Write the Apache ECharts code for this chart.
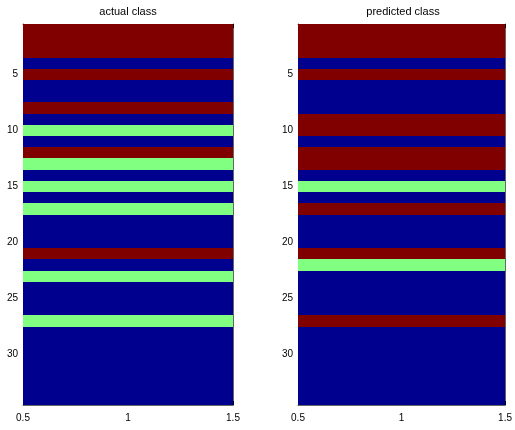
<!DOCTYPE html>
<html>
<head>
<meta charset="utf-8">
<script src="https://cdn.jsdelivr.net/npm/echarts@6/dist/echarts.min.js"></script>
<style>
html,body{margin:0;padding:0;background:#fff;}
#chart{width:515px;height:430px;}
</style>
</head>
<body>
<div id="chart"></div>
<script>
// ---- data ----
const rowIndex = [1,2,3,4,5,6,7,8,9,10,11,12,13,14,15,16,17,18,19,20,21,22,23,24,25,26,27,28,29,30,31,32,33,34];
const actualClass    = [3,3,3,1,3,1,1,3,1,2,1,3,2,1,2,1,2,1,1,1,3,1,2,1,1,1,2,1,1,1,1,1,1,1];
const predictedClass = [3,3,3,1,3,1,1,1,3,3,1,3,3,1,2,1,3,1,1,1,3,2,1,1,1,1,3,1,1,1,1,1,1,1];
const panelTitles = ['actual class', 'predicted class'];
const yTickValues = [5,10,15,20,25,30];

// ---- style ----
const classColor = {1:'#00008f', 2:'#80ff80', 3:'#800000'};
const FONT = 'Liberation Sans';
const grids = [
  {left:23, top:24, width:210, height:381},
  {left:298, top:24, width:210, height:381}
];

const chart = echarts.init(document.getElementById('chart'));

const xAxes = [], yAxes = [], series = [], titles = [];
const allData = [actualClass, predictedClass];
grids.forEach((g, i) => {
  const lineStyle = {color:'#666', width:1};
  xAxes.push({
    gridIndex:i, type:'value', position:'bottom', min:0.5, max:1.5, interval:0.5,
    axisLine:{show:true, lineStyle, onZero:false},
    axisTick:{show:true, inside:true, length:4, lineStyle:{color:'#000'}},
    axisLabel:{show:true, color:'#000', fontFamily:FONT, fontSize:10, margin:8,
      formatter: v => String(v)},
    splitLine:{show:false}
  });
  xAxes.push({
    gridIndex:i, type:'value', position:'top', min:0.5, max:1.5, interval:0.5,
    axisLine:{show:true, lineStyle, onZero:false},
    axisTick:{show:true, inside:true, length:4, lineStyle:{color:'#000'}},
    axisLabel:{show:false}, splitLine:{show:false}
  });
  yAxes.push({
    gridIndex:i, type:'value', position:'left', inverse:true, min:0.5, max:34.5,
    axisLine:{show:true, lineStyle, onZero:false},
    axisTick:{show:true, inside:true, length:4, lineStyle:{color:'#000'}, customValues:yTickValues},
    axisLabel:{show:true, color:'#000', fontFamily:FONT, fontSize:10, margin:5, customValues:yTickValues},
    splitLine:{show:false}
  });
  yAxes.push({
    gridIndex:i, type:'value', position:'right', inverse:true, min:0.5, max:34.5,
    axisLine:{show:true, lineStyle, onZero:false},
    axisTick:{show:true, inside:true, length:4, lineStyle:{color:'#000'}, customValues:yTickValues},
    axisLabel:{show:false}, splitLine:{show:false}
  });
  const data = rowIndex.map((r, k) => [1, r, allData[i][k]]);
  series.push({
    type:'custom', xAxisIndex:i*2, yAxisIndex:i*2, clip:true, z:1,
    data,
    encode:{x:0, y:1},
    renderItem:(params, api) => {
      const y = api.value(1);
      const c = api.value(2);
      const p0 = api.coord([0.5, y - 0.5]);
      const p1 = api.coord([1.5, y + 0.5]);
      const y0 = Math.round(Math.min(p0[1], p1[1]));
      const y1 = Math.round(Math.max(p0[1], p1[1]));
      return {
        type:'rect',
        shape:{x:p0[0], y:y0, width:p1[0]-p0[0], height:y1 - y0},
        style:{fill:classColor[c], stroke:null, lineWidth:0}
      };
    }
  });
  titles.push({
    text:panelTitles[i], left:g.left + g.width/2, top:6, textAlign:'center', padding:0,
    textStyle:{fontFamily:FONT, fontSize:11, fontWeight:'normal', color:'#000'}
  });
});

chart.setOption({
  animation:false,
  backgroundColor:'#fff',
  title:titles,
  grid:grids.map(g => Object.assign({containLabel:false}, g)),
  xAxis:xAxes,
  yAxis:yAxes,
  series
});
</script>
</body>
</html>
